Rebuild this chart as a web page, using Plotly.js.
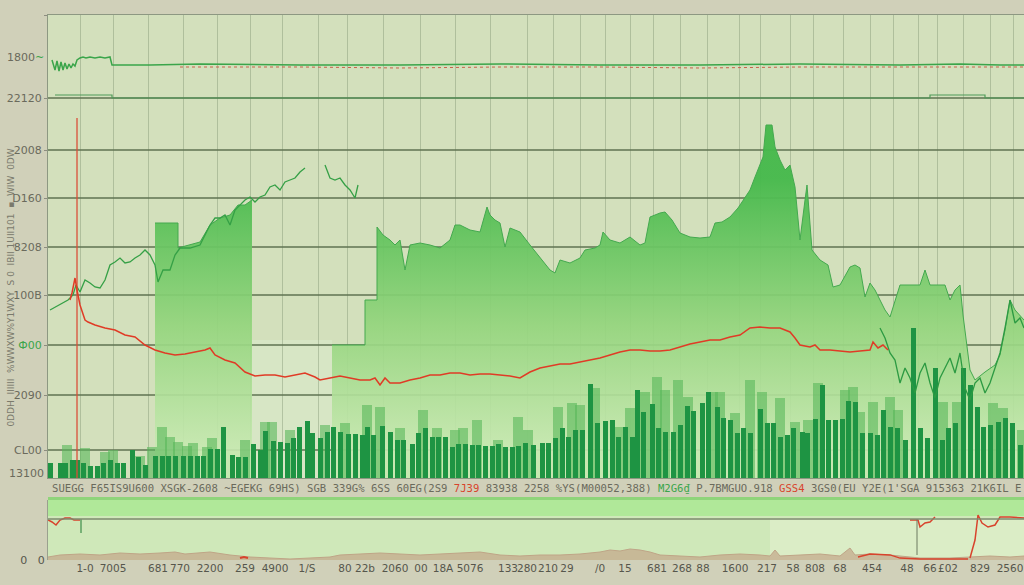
<!DOCTYPE html>
<html>
<head>
<meta charset="utf-8">
<script src="https://cdn.plot.ly/plotly-3.0.1.min.js"></script>
<style>html,body{margin:0;padding:0;background:#d0d0b9;}#chart{width:1024px;height:585px;}</style>
</head>
<body>
<div id="chart"></div>
<script>
// ---------- data (x = trading day, y = level) ----------
const areaAX = [155,178,178,190,200,210,220,230,238,245,252];
const areaAY = [255,255,230,233,236,253,260,263,273,273,278];
const areaBX = [332,365,365,377,377,383,390,395,400,405,410,420,430,440,450,455,460,470,480,487,490,495,500,505,510,520,530,540,550,555,560,570,580,585,595,600,603,610,620,630,640,645,650,660,665,672,680,690,700,710,715,722,730,738,745,750,755,760,763,766,772,775,780,785,790,795,800,805,807,812,820,828,833,840,850,855,860,865,870,875,880,885,890,895,900,910,920,925,930,940,945,950,955,960,963,970,975,985,995,1000,1005,1010,1015,1024];
const areaBY = [133,133,178,178,251,243,238,233,238,208,233,235,233,230,238,253,253,248,246,271,263,258,255,231,250,246,233,221,208,205,218,215,220,228,230,233,246,238,235,241,233,235,261,265,266,258,245,241,240,241,255,256,261,270,281,288,301,313,321,353,353,331,318,308,313,291,238,278,293,228,218,213,191,193,211,213,210,181,195,188,178,168,161,178,193,193,193,208,193,193,193,178,188,193,163,108,98,106,113,123,148,178,168,158];

const lineX = [50,55,62,68,73,76,80,85,90,95,100,105,110,115,120,125,130,135,140,145,150,155,158,163,170,175,180,190,200,205,210,215,220,225,230,235,240,245,250,255,260,265,270,275,280,285,290,295,300,305,315,325,330,335,340,345,350,355,358];
const lineY = [168,171,175,178,183,193,186,198,195,191,190,198,213,216,220,215,216,220,223,228,223,213,196,208,208,223,230,230,233,243,253,260,260,263,253,268,273,278,281,276,281,283,291,293,288,296,298,300,306,310,null,313,300,298,300,293,288,280,293];

const line2X = [880,885,890,895,900,905,910,915,920,925,930,935,940,945,950,955,960,965,970,975,980,985,990,995,1000,1005,1010,1015,1020,1024];
const line2Y = [150,140,125,118,95,110,100,85,105,115,95,80,100,110,120,105,125,90,78,95,100,85,95,110,125,150,178,155,160,150];

const redX = [70,72,74,75,77,79,80,85,88,95,105,115,125,135,145,155,165,175,185,195,205,210,215,225,235,245,255,265,275,285,295,305,315,320,330,340,350,360,370,375,380,385,390,400,410,420,430,440,450,460,470,480,490,500,510,520,530,540,550,560,570,580,590,600,610,620,630,640,650,660,670,680,690,700,710,720,730,740,750,760,770,780,790,795,800,810,815,820,830,840,850,860,870,873,878,883,888];
const redY = [178,185,195,200,188,180,173,158,156,153,150,148,143,141,133,128,125,123,124,126,128,130,123,118,115,106,102,103,103,101,103,105,101,98,100,102,100,98,98,100,93,100,95,95,98,100,103,103,105,105,103,104,104,103,102,100,106,110,112,114,114,116,118,120,123,126,128,128,127,127,128,131,134,136,138,138,141,143,150,151,150,150,146,140,133,131,133,128,128,127,126,127,128,136,130,133,128];
const redSpikeX = [77,77];
const redSpikeY = [0,360];

const topX = [52,55,57,59,61,63,65,67,69,71,73,75,77,80,83,86,90,95,100,105,110,112,150,200,300,400,500,600,700,800,900,960,1000,1024];
const topY = [418,408,417,407,416,408,415,409,414,410,414,412,418,420,421,420,421,420,421,420,421,413,413,414,413,413,414,413,413,414,413,414,413,413];
const dotX = [180,300,400,500,600,700,800,900,1024];
const dotY = [411,411,410,411,411,410,411,411,411];
const midX = [55,112,112,930,930,985,985,1024];
const midY = [383,383,380,380,383,383,380,380];

const darkX = [50,60,65,72,77,83,90,97,103,110,117,123,132,138,145,155,162,168,175,183,190,197,203,210,217,223,232,238,245,253,260,265,273,280,287,293,299,307,312,320,327,333,340,348,355,362,367,373,382,390,397,403,412,418,425,432,438,445,452,458,465,472,478,485,492,498,505,512,518,525,533,542,548,555,562,568,575,582,590,597,605,612,618,625,632,637,643,652,658,665,673,680,687,693,702,708,717,723,730,737,743,750,760,767,773,780,787,793,802,807,815,822,828,835,842,848,855,862,870,877,883,890,897,905,913,920,927,935,942,948,955,963,970,977,983,990,998,1005,1012,1020];
const darkH = [15,15,15,18,18,15,12,12,15,18,15,15,28,21,13,22,22,22,22,22,22,22,22,29,29,51,23,21,21,34,28,47,37,36,35,40,51,57,45,40,46,51,46,44,44,43,51,43,52,46,38,38,34,45,50,41,41,41,31,34,34,33,33,32,32,34,31,31,32,35,33,35,35,40,50,41,48,48,94,55,57,58,41,51,41,88,66,74,50,46,46,53,72,67,75,86,71,60,58,45,50,45,69,55,55,41,43,50,46,45,59,93,58,58,59,77,76,45,45,43,68,51,50,38,150,50,40,110,38,50,55,110,93,71,51,53,56,60,55,33];
const lightX = [67,85,105,113,140,152,162,170,178,187,193,207,212,245,265,272,290,325,345,367,380,400,423,437,455,463,477,498,518,528,558,572,580,595,620,630,645,657,665,678,688,713,720,735,750,762,780,795,808,818,845,853,860,873,890,898,943,957,993,1003,1022];
const lightH = [33,30,26,28,22,31,51,41,36,32,35,31,40,38,56,56,48,53,55,73,71,50,68,50,48,50,58,38,61,48,71,75,73,90,51,70,86,101,88,98,81,86,86,65,98,86,80,56,58,95,88,91,66,76,81,68,76,76,75,70,48];

// lower panel
const tanX = [48,60,80,100,120,140,160,175,185,200,210,230,250,270,290,310,330,340,360,380,400,420,440,460,480,500,520,540,560,580,600,610,620,630,640,650,660,680,700,720,740,760,770,775,780,800,820,840,850,855,870,890,900,920,950,970,990,1010,1024];
const tanY = [3,5,6,5,7,6,7,8,6,7,8,5,3,2,1,2,3,5,6,7,6,5,6,7,8,5,4,5,5,6,8,10,9,11,10,8,5,4,3,5,6,5,4,10,4,5,6,4,12,5,6,5,4,2,2,3,4,3,4];
const lowRedAX = [48,52,56,60,65,70,74,80];
const lowRedAY = [40,38,35,40,42,42,40,40];
const lowRedBX = [910,918,920,925,930,935];
const lowRedBY = [40,40,33,37,38,43];
const lowRedCX = [970,975,978,982,988,995,1000,1010,1024];
const lowRedCY = [2,20,45,37,33,35,43,43,42];
const lowRedDX = [858,870,890,900,920,945,968];
const lowRedDY = [3,6,5,2,1,1,1];
const lowRedEX = [240,244,248];
const lowRedEY = [2,3,2];

// tick labels
const yTickVals = [28,83,133,183,231,280,328,380,463];
const yTickText = ['CL00','2090',"<span style='color:#3aa54a'>Ф00</span>",'100B','8208','D160','2008','22120',''];
const xTickVals = [85,113,158,180,210,245,275,307,345,365,395,421,443,470,508,527,548,567,600,625,657,682,703,735,767,793,815,840,872,907,930,948,980,1010];
const xTickText = ['1-0','7005','681','770','2200','259','4900','1/S','80','22b','2060','00','18A','5076','133','280','210','29','/0','15','681','268','88','1600','217','58','808','68','454','48','66','£02','829','2560'];
const gridDays = [48,80,113,148,183,217,250,282,318,347,383,420,455,490,527,553,580,605,630,653,680,707,739,760,790,813,843,870,893,918,937,963,990,1013];

// ---------- traces ----------
const grad = {type:'vertical', start:30, stop:300,
  colorscale:[[0,'rgba(198,233,176,0.9)'],[0.45,'rgba(148,213,125,0.92)'],[1,'rgba(70,185,76,0.96)']]};
const ov = {xaxis:'x', yaxis:'y3', showlegend:false, hoverinfo:'skip'};
const traces = [
  {x: areaAX, y: areaAY, type:'scatter', mode:'lines', fill:'tozeroy', line:{color:'#44a94f', width:1},
   fillgradient:grad, hoverinfo:'skip', showlegend:false},
  {x: areaBX, y: areaBY, type:'scatter', mode:'lines', fill:'tozeroy', line:{color:'#44a94f', width:1},
   fillgradient:grad, hoverinfo:'skip', showlegend:false},
  Object.assign({x: lightX, y: lightH, type:'bar', width:10, marker:{color:'rgba(88,184,90,0.6)', line:{width:0}}}, ov),
  Object.assign({x: darkX, y: darkH, type:'bar', width:5, marker:{color:'#1e9443', line:{width:0}}}, ov),
  Object.assign({x: lineX, y: lineY, type:'scatter', mode:'lines', connectgaps:false, line:{color:'#35a046', width:1.3}}, ov),
  Object.assign({x: line2X, y: line2Y, type:'scatter', mode:'lines', line:{color:'#2c9a42', width:1.3}}, ov),
  Object.assign({x: redSpikeX, y: redSpikeY, type:'scatter', mode:'lines', line:{color:'#d9503a', width:1.3}}, ov),
  Object.assign({x: redX, y: redY, type:'scatter', mode:'lines', line:{color:'#e03b26', width:1.5}}, ov),
  Object.assign({x: topX, y: topY, type:'scatter', mode:'lines', line:{color:'#3aa54a', width:1.5}}, ov),
  Object.assign({x: dotX, y: dotY, type:'scatter', mode:'lines', line:{color:'#c9604a', width:1, dash:'dot'}}, ov),
  Object.assign({x: midX, y: midY, type:'scatter', mode:'lines', line:{color:'#4f9a58', width:1.2}}, ov),
  // lower panel
  {x: tanX, y: tanY, xaxis:'x2', yaxis:'y2', type:'scatter', mode:'lines', fill:'tozeroy',
   line:{color:'#bfa587', width:1}, fillcolor:'rgba(196,170,140,0.75)', showlegend:false},
  {x: lowRedAX, y: lowRedAY, xaxis:'x2', yaxis:'y2', type:'scatter', mode:'lines', line:{color:'#d8432c', width:1.5}, showlegend:false},
  {x: [81,81], y: [41,27], xaxis:'x2', yaxis:'y2', type:'scatter', mode:'lines', line:{color:'#5aa060', width:1.5}, showlegend:false},
  {x: lowRedBX, y: lowRedBY, xaxis:'x2', yaxis:'y2', type:'scatter', mode:'lines', line:{color:'#d8432c', width:1.5}, showlegend:false},
  {x: [917,917], y: [41,5], xaxis:'x2', yaxis:'y2', type:'scatter', mode:'lines', line:{color:'#6d7a60', width:1}, showlegend:false},
  {x: lowRedCX, y: lowRedCY, xaxis:'x2', yaxis:'y2', type:'scatter', mode:'lines', line:{color:'#d8432c', width:1.5}, showlegend:false},
  {x: lowRedDX, y: lowRedDY, xaxis:'x2', yaxis:'y2', type:'scatter', mode:'lines', line:{color:'#d8432c', width:1.3}, showlegend:false},
  {x: lowRedEX, y: lowRedEY, xaxis:'x2', yaxis:'y2', type:'scatter', mode:'lines', line:{color:'#d8432c', width:2}, showlegend:false}
];

const pY = py => (560 - py) / 545;
const layout = {
  width:1024, height:585,
  margin:{l:48, r:0, t:15, b:25},
  paper_bgcolor:'#d0d0b9', plot_bgcolor:'#d3e0bc',
  barmode:'overlay', bargap:0,
  font:{family:'DejaVu Sans', color:'#666658', size:11},
  xaxis:{domain:[0,1], range:[48,1024], anchor:'y', showticklabels:false, tickvals:gridDays,
         showgrid:true, gridcolor:'rgba(110,130,96,0.35)', gridwidth:1, zeroline:false,
         showline:true, mirror:true, linecolor:'#8d9882', linewidth:1},
  yaxis:{domain:[pY(478),1], range:[0,463], tickvals:yTickVals, ticktext:yTickText,
         showgrid:true, gridcolor:'rgba(95,115,82,0.75)', gridwidth:1.4, zeroline:false,
         ticks:'outside', ticklen:3, tickcolor:'#8d8d80', showline:true, linecolor:'#8d9882',
         tickfont:{size:11, color:'#6a6a5c'}},
  yaxis3:{overlaying:'y', anchor:'x', range:[0,463], visible:false, showgrid:false, zeroline:false},
  xaxis2:{domain:[0,1], range:[48,1024], anchor:'y2', tickvals:xTickVals, ticktext:xTickText, tickangle:0,
          ticklabeloverflow:'allow', showgrid:false, zeroline:false, ticks:'',
          tickfont:{size:10.5, color:'#56564c'}, ticklabelstandoff:0},
  yaxis2:{domain:[0,pY(500)], range:[0,60], tickvals:[0], ticktext:['0   0'], showgrid:false, zeroline:false,
          tickfont:{size:11, color:'#56564c'}, showline:true, linecolor:'#9aa08e'},
  shapes:[
    {type:'rect', xref:'paper', yref:'y2 domain', x0:0, x1:1, y0:0, y1:1, fillcolor:'#cfe8b9', line:{width:0}, layer:'below'},
    {type:'rect', xref:'paper', yref:'y2', x0:0, x1:1, y0:44, y1:60, fillcolor:'rgba(172,232,150,0.9)', line:{width:0}, layer:'below'},
    {type:'rect', xref:'x2', yref:'y2 domain', x0:770, x1:1024, y0:0, y1:0.7, fillcolor:'rgba(232,244,216,0.45)', line:{width:0}, layer:'below'},
    {type:'line', xref:'paper', yref:'y2', x0:0, x1:1, y0:41, y1:41, line:{color:'#7d8a6e', width:1.3}},
    {type:'rect', xref:'paper', yref:'paper', x0:0, x1:1, y0:pY(500), y1:pY(497), fillcolor:'#8fd47a', line:{width:0}},
    {type:'rect', xref:'x', yref:'paper', x0:252, x1:332, y0:pY(478), y1:pY(340), fillcolor:'rgba(220,236,205,0.5)', line:{width:0}, layer:'below'}
  ],
  annotations:[
    {xref:'paper', yref:'y', x:0, y:421, xanchor:'right', xshift:-2, showarrow:false,
     text:"<span style='color:#6a6a5c'>1800</span><span style='color:#3aa54a'>~</span>", font:{size:11}},
    {xref:'paper', yref:'y', x:0, y:5, xanchor:'right', xshift:-2, showarrow:false, text:'13100', font:{size:11, color:'#6a6a5c'}},
    {xref:'paper', yref:'paper', x:-0.046, y:0.5, textangle:-90, showarrow:false,
     text:'0DDH  IIIIII  %WWXW%Y1WXY  S 0  IBII 1UII101  ▪  WIW  0DW', font:{size:9, color:'#7a7a6c'}},
    {xref:'paper', yref:'paper', x:0.002, y:pY(488), xanchor:'left', yanchor:'middle', showarrow:false,
     font:{family:'DejaVu Sans Mono', size:10.6, color:'#6a6a5c'},
     text:"SUEGG F65IS9U600 XSGK-2608 ~EGEKG 69HS) SGB 339G% 6SS 60EG(2S9 <span style='color:#d8432c'>7J39</span> 83938 2258 %YS(M00052,388) <span style='color:#3aa54a'>M2G6₫</span> P.7BMGUO.918 <span style='color:#d8432c'>GSS4</span> 3GS0(EU Y2E(1'SGA 915363 21K6IL E"}
  ]
};

Plotly.newPlot('chart', traces, layout, {displayModeBar:false, staticPlot:true});
</script>
</body>
</html>
